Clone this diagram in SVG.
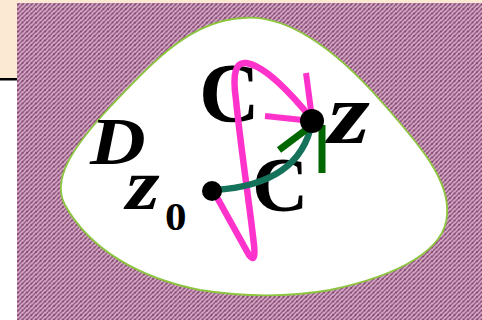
<svg xmlns="http://www.w3.org/2000/svg" width="482" height="320" viewBox="0 0 482 320">
<defs>
<pattern id="hatch" width="4.5" height="4.5" patternUnits="userSpaceOnUse">
<rect width="4.5" height="4.5" fill="#884873"/>
<path d="M-1,3.5 L3.5,-1 M1,5.5 L5.5,1" stroke="#e0b8d3" stroke-width="1.4"/>
</pattern>
<style>
.lbl{font-family:"Liberation Serif","Times New Roman",serif;font-weight:bold;fill:#000}
.it{font-style:italic}
.mag{fill:none;stroke:#ff33cc;stroke-width:6.5;stroke-linecap:round;stroke-linejoin:round}
.mag2{fill:none;stroke:#ff33cc;stroke-width:6}
.teal{fill:none;stroke:#14725a;stroke-width:6.5}
.dg{fill:none;stroke:#006600;stroke-width:7}
</style>
</defs>
<rect x="0" y="0" width="482" height="320" fill="#ffffff"/>
<rect x="0" y="0" width="482" height="79" fill="#fce9d3"/>
<rect x="0" y="78" width="17" height="2.5" fill="#000"/>
<rect x="17" y="3" width="465" height="317" fill="url(#hatch)"/>
<g id="region">
<path d="M243,18 C290,14 340,55 380,100 C420,145 450,180 447,215 C445,250 400,275 330,290 C290,297 250,298 200,290 C140,278 90,250 65,205 C52,180 70,150 110,107 C150,65 190,20 243,18 Z" fill="#ffffff" stroke="#8cc63f" stroke-width="1.8"/>
</g>
<g id="labels">
<text class="lbl" x="199" y="122" font-size="84">C</text>
<text class="lbl" x="252" y="211" font-size="78">C</text>
<text class="lbl it" transform="translate(328,143) scale(1.25,1)" font-size="86">z</text>
<text class="lbl it" transform="translate(90,164) scale(1.15,1)" font-size="67">D</text>
<text class="lbl it" transform="translate(126,209) scale(1.2,1)" font-size="72">z</text>
<text class="lbl" transform="translate(165,230) scale(1.05,1)" font-size="41">0</text>
</g>
<g id="connectors">
<path class="mag" d="M214,192 L249,255 Q256,264 254,245 C249,200 241,150 236,100 C232,72 236,62 246,63 C266,66 292,95 312,119"/>
<path class="mag2" d="M306,73 L312,118 M265,116 L312,121"/>
<path class="teal" d="M214,190 Q300,185 312,122"/>
<path class="dg" d="M279,150 L311,126 M322,125 L322,173"/>
</g>
<g id="z0">
<circle cx="212" cy="191" r="10" fill="#000"/>
</g>
<g id="z">
<circle cx="312" cy="121" r="12" fill="#000"/>
</g>
</svg>
